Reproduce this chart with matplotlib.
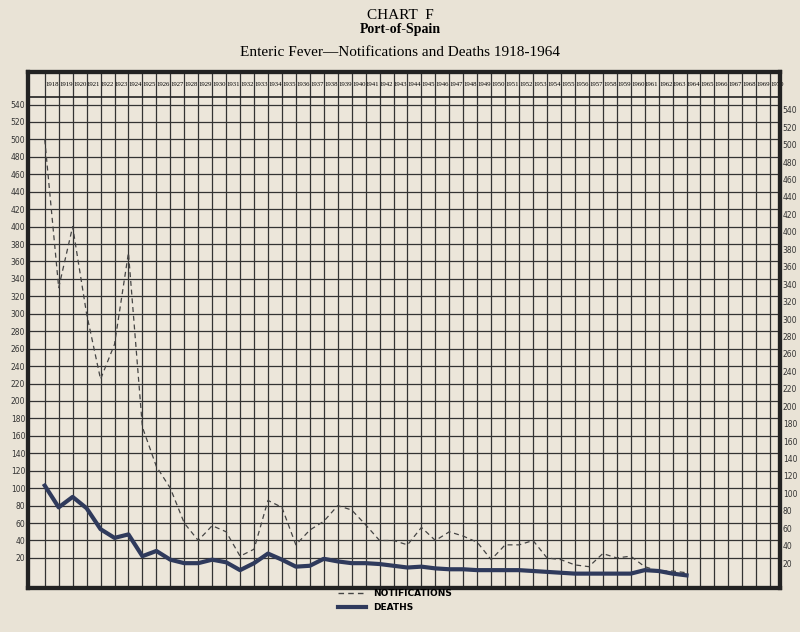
import matplotlib.pyplot as plt
import numpy as np

years = list(range(1918, 1965))
notifications = [500,330,400,300,225,265,370,170,125,100,60,40,57,50,22,30,86,78,35,52,62,80,75,58,40,40,35,55,40,50,45,38,18,35,35,40,20,18,12,10,25,20,22,10,5,5,3]
deaths = [103,78,90,77,53,43,47,22,28,18,14,14,18,15,6,14,25,18,10,11,19,16,14,14,13,11,9,10,8,7,7,6,6,6,6,5,4,3,2,2,2,2,2,6,5,2,0]
header_years = list(range(1918, 1971))
yticks = list(range(20, 541, 20))

bg = '#e9e3d6'
fig = plt.figure(figsize=(8, 6.32), dpi=100, facecolor=bg)
ax = fig.add_axes([0.035, 0.0696, 0.94, 0.816], facecolor='#ece6da')
ax.set_xlim(1916.8, 1970.7)
ax.set_ylim(-14.5, 577)
for y in header_years:
    ax.axvline(y, color='#333', lw=0.9, zorder=1)
for v in yticks:
    ax.axhline(v, color='#333', lw=0.9, zorder=1)
ax.axhline(549, color='#222', lw=1.2)
for y in header_years:
    ax.text(y + 0.5, 563, str(y), fontsize=4.9, ha='center', va='center', family='Liberation Serif')
ax.set_xticks([])
ax.set_yticks(yticks)
ax.set_yticklabels([str(v) for v in yticks], fontsize=5.5, color='#333')
ax.tick_params(axis='y', length=0, pad=2)
ax2 = ax.twinx()
ax2.set_ylim(-14.5 + 6, 577 + 6)
ax2.set_yticks(yticks)
ax2.set_yticklabels([str(v) for v in yticks], fontsize=5.5, color='#333')
ax2.tick_params(axis='y', length=0, pad=2)
for a in (ax, ax2):
    for s in a.spines.values():
        s.set_linewidth(3)
        s.set_color('#222')
ax.plot(years, notifications, ls=(0, (4, 3)), color='#444', lw=0.9, zorder=3)
ax.plot(years, deaths, color='#2f3a5c', lw=3, zorder=4)

fig.text(0.5, 0.985, 'CHART  F', ha='center', va='top', fontsize=11, family='Liberation Serif')
fig.text(0.5, 0.963, 'Port-of-Spain', ha='center', va='top', fontsize=10, family='Liberation Serif', weight='bold')
fig.text(0.5, 0.928, 'Enteric Fever—Notifications and Deaths 1918-1964', ha='center', va='top', fontsize=11, family='Liberation Serif')

fig.add_artist(plt.Line2D([338/800, 366/800], [1 - 593/632] * 2, ls=(0, (4, 3)), color='#444', lw=1))
fig.add_artist(plt.Line2D([338/800, 366/800], [1 - 607/632] * 2, color='#2f3a5c', lw=3))
fig.text(373/800, 1 - 593/632, 'NOTIFICATIONS', fontsize=6.5, va='center', weight='bold')
fig.text(373/800, 1 - 607/632, 'DEATHS', fontsize=6.5, va='center', weight='bold')
fig.savefig('out.png', dpi=100, facecolor=bg)
